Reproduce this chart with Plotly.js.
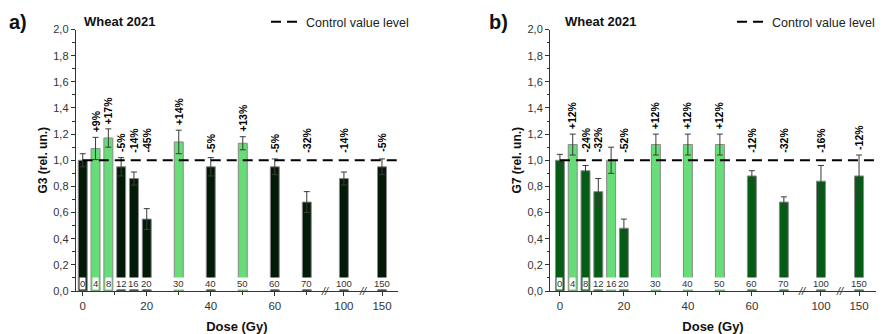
<!DOCTYPE html>
<html>
<head>
<meta charset="utf-8">
<script src="https://cdn.plot.ly/plotly-3.0.1.min.js"></script>
<style>html,body{margin:0;padding:0;background:#fff;}#chart{width:886px;height:334px;}</style>
</head>
<body>
<div id="chart"></div>
<script>
// ---- data ----
const doses = [0, 4, 8, 12, 16, 20, 30, 40, 50, 60, 70, 100, 150];
const doseLabels = ['0', '4', '8', '12', '16', '20', '30', '40', '50', '60', '70', '100', '150'];

const g3 = [1.00, 1.09, 1.17, 0.95, 0.86, 0.55, 1.14, 0.95, 1.13, 0.95, 0.68, 0.86, 0.95];
const g3Err = [0.05, 0.085, 0.07, 0.07, 0.05, 0.08, 0.09, 0.07, 0.05, 0.06, 0.08, 0.05, 0.06];
const g3Pct = ['', '+9%', '+17%', '-5%', '-14%', '-45%', '+14%', '-5%', '+13%', '-5%', '-32%', '-14%', '-5%'];
const g3Effect = ['ctrl', 'up', 'up', 'down', 'down', 'down', 'up', 'down', 'up', 'down', 'down', 'down', 'down'];

const g7 = [1.00, 1.12, 0.92, 0.76, 1.00, 0.48, 1.12, 1.12, 1.12, 0.88, 0.68, 0.84, 0.88];
const g7Err = [0.045, 0.08, 0.04, 0.10, 0.10, 0.07, 0.08, 0.08, 0.08, 0.04, 0.04, 0.12, 0.16];
const g7Pct = ['', '+12%', '-24%', '-32%', '', '-52%', '+12%', '+12%', '+12%', '-12%', '-32%', '-16%', '-12%'];
const g7Effect = ['ctrl', 'up', 'down', 'down', 'up', 'down', 'up', 'up', 'up', 'down', 'down', 'down', 'down'];

const controlLevel = 1.0;
const xTickDoses = [0, 20, 40, 60, 100, 150];
const xTickLabels = ['0', '20', '40', '60', '100', '150'];
const xMinorDoses = [10, 30, 50, 70];

// ---- broken axis mapping (axis layout) ----
function axisPos(d) {
  if (d <= 70) return d;
  if (d <= 100) return 70 + (d - 70) * (11.6 / 30);
  return 81.6 + (d - 100) * (11.9 / 50);
}
const xPos = doses.map(axisPos);

const FONT = 'Liberation Sans, Arial, Helvetica, sans-serif';
const LIGHT = '#66dd77';
const DARK_A = '#021a07';
const DARK_B = '#045c15';

function barTrace(vals, errs, effects, dark, xa, ya) {
  return {
    type: 'bar', x: xPos, y: vals, width: 2.8,
    xaxis: xa, yaxis: ya, showlegend: false, hoverinfo: 'skip',
    marker: {color: effects.map(e => e === 'up' ? LIGHT : dark), line: {color: '#8a8a8a', width: 1}},
    error_y: {type: 'data', array: errs, visible: true, color: '#3a3a3a', thickness: 1, width: 3}
  };
}

const xEndA = 98.5, xEndB = 98.8;
function controlTrace(xa, ya, xEnd, leg) {
  return {
    type: 'scatter', mode: 'lines', x: [0, xEnd], y: [controlLevel, controlLevel],
    xaxis: xa, yaxis: ya, name: 'Control value level', legend: leg,
    line: {color: '#000', width: 2, dash: '10px,6px'}, hoverinfo: 'skip'
  };
}

const data = [
  barTrace(g3, g3Err, g3Effect, DARK_A, 'x', 'y'),
  controlTrace('x', 'y', xEndA, 'legend'),
  barTrace(g7, g7Err, g7Effect, DARK_B, 'x2', 'y2'),
  controlTrace('x2', 'y2', xEndB, 'legend2')
];

const annotations = [];
function panelAnnotations(vals, errs, pcts, xa, ya) {
  vals.forEach((v, i) => {
    if (pcts[i]) {
      annotations.push({
        xref: xa, yref: ya, x: xPos[i], y: Math.max(v + errs[i] + 0.02, 1.045),
        text: '<b>' + pcts[i] + '</b>', textangle: -90, showarrow: false,
        xanchor: 'center', yanchor: 'bottom', font: {family: FONT, size: 10.5, color: '#000'}
      });
    }
    annotations.push({
      xref: xa, yref: ya, x: xPos[i], y: 0, text: doseLabels[i], showarrow: false,
      xanchor: 'center', yanchor: 'bottom', yshift: 1, bgcolor: '#ffffff', borderpad: 0,
      font: {family: FONT, size: 9.5, color: '#333'}
    });
  });
  // axis break marks
  [(axisPos(70) + axisPos(100)) / 2, (axisPos(100) + axisPos(150)) / 2].forEach(bx => {
    annotations.push({
      xref: xa, yref: ya, x: bx, y: 0, text: '<i>//</i>', showarrow: false,
      xanchor: 'center', yanchor: 'middle', font: {family: FONT, size: 11, color: '#333'}
    });
  });
}
panelAnnotations(g3, g3Err, g3Pct, 'x', 'y');
panelAnnotations(g7, g7Err, g7Pct, 'x2', 'y2');

const W = 886, H = 334;
function px(x) { return x / W; }
function py(y) { return (H - y) / H; }
annotations.push(
  {xref: 'paper', yref: 'paper', x: px(7), y: py(22), text: '<b>a)</b>', showarrow: false, xanchor: 'left', yanchor: 'middle', font: {family: FONT, size: 20, color: '#111'}},
  {xref: 'paper', yref: 'paper', x: px(487), y: py(22), text: '<b>b)</b>', showarrow: false, xanchor: 'left', yanchor: 'middle', font: {family: FONT, size: 20, color: '#111'}},
  {xref: 'paper', yref: 'paper', x: px(82), y: py(22), text: '<b>Wheat 2021</b>', showarrow: false, xanchor: 'left', yanchor: 'middle', font: {family: FONT, size: 13, color: '#111'}},
  {xref: 'paper', yref: 'paper', x: px(563), y: py(22), text: '<b>Wheat 2021</b>', showarrow: false, xanchor: 'left', yanchor: 'middle', font: {family: FONT, size: 13, color: '#111'}}
);

const yDom = [py(291), py(29.5)];
function xAxis(dom, range) {
  return {
    domain: dom, range: range, showline: true, linecolor: '#333', linewidth: 1,
    showgrid: false, zeroline: false, ticks: 'outside', ticklen: 4, tickcolor: '#333',
    tickvals: xTickDoses.map(axisPos), ticktext: xTickLabels,
    minor: {tickvals: xMinorDoses.map(axisPos), ticks: 'outside', ticklen: 2.5, tickcolor: '#333'},
    tickfont: {family: FONT, size: 11.5, color: '#333'},
    title: {text: '<b>Dose (Gy)</b>', font: {family: FONT, size: 13, color: '#111'}, standoff: 11},
    automargin: false, fixedrange: true
  };
}
function yAxis(anchor, title) {
  return {
    domain: yDom, range: [0, 2], anchor: anchor, showline: true, linecolor: '#333', linewidth: 1,
    showgrid: false, zeroline: false, ticks: 'outside', ticklen: 4, tickcolor: '#333',
    tick0: 0, dtick: 0.2, tickformat: '.1f',
    minor: {dtick: 0.1, ticks: 'outside', ticklen: 2.5, tickcolor: '#333'},
    tickfont: {family: FONT, size: 11, color: '#333'},
    title: {text: '<b>' + title + '</b>', font: {family: FONT, size: 12, color: '#111'}, standoff: 3},
    automargin: false, fixedrange: true
  };
}

const layout = {
  width: W, height: H, margin: {l: 0, r: 0, t: 0, b: 0},
  paper_bgcolor: '#fff', plot_bgcolor: 'rgba(0,0,0,0)', separators: ',.',
  font: {family: FONT, color: '#222'},
  bargap: 0, barmode: 'overlay',
  xaxis: Object.assign(xAxis([px(75.7), px(398)], [-2.2, xEndA]), {anchor: 'y'}),
  yaxis: yAxis('x', 'G3 (rel. un.)'),
  xaxis2: Object.assign(xAxis([px(550), px(876)], [-3.1, xEndB]), {anchor: 'y2'}),
  yaxis2: yAxis('x2', 'G7 (rel. un.)'),
  legend: {x: px(266), y: py(22), xanchor: 'left', yanchor: 'middle', bgcolor: 'rgba(0,0,0,0)', font: {family: FONT, size: 12.5, color: '#222'}},
  legend2: {x: px(732), y: py(22), xanchor: 'left', yanchor: 'middle', bgcolor: 'rgba(0,0,0,0)', font: {family: FONT, size: 12.5, color: '#222'}},
  showlegend: true,
  annotations: annotations
};

Plotly.newPlot('chart', data, layout, {displayModeBar: false, staticPlot: true});
</script>
</body>
</html>
